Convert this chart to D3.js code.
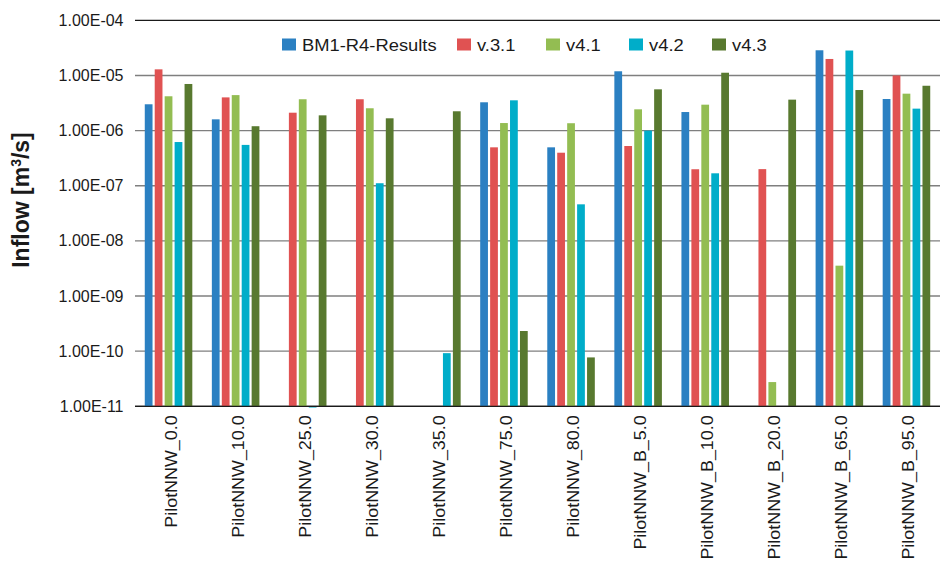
<!DOCTYPE html>
<html>
<head>
<meta charset="utf-8">
<script src="https://cdn.jsdelivr.net/npm/d3@7/dist/d3.min.js"></script>
<style>
  html, body { margin: 0; padding: 0; background: #fff; }
  svg { display: block; font-family: "Liberation Sans", Arial, sans-serif; }
</style>
</head>
<body>
<svg id="chart" width="940" height="563"></svg>
<script>
// Measurement locations along the pilot tunnel
const categories = [
  "PilotNNW_0.0", "PilotNNW_10.0", "PilotNNW_25.0", "PilotNNW_30.0",
  "PilotNNW_35.0", "PilotNNW_75.0", "PilotNNW_80.0", "PilotNNW_B_5.0",
  "PilotNNW_B_10.0", "PilotNNW_B_20.0", "PilotNNW_B_65.0", "PilotNNW_B_95.0"
];

const seriesNames = ["BM1-R4-Results", "v.3.1", "v4.1", "v4.2", "v4.3"];

// Inflow per location [m³/s]; null = no value
const bm1R4Results = [3.0e-6, 1.6e-6, null, null, null, 3.26e-6, 4.97e-7, 1.19e-5, 2.17e-6, null, 2.86e-5, 3.74e-6];
const v31          = [1.29e-5, 4.0e-6, 2.11e-6, 3.7e-6, null, 4.97e-7, 3.97e-7, 5.25e-7, 1.99e-7, 2.0e-7, 1.99e-5, 1.0e-5];
const v41          = [4.19e-6, 4.4e-6, 3.7e-6, 2.54e-6, null, 1.37e-6, 1.36e-6, 2.43e-6, 2.95e-6, 2.75e-11, 3.55e-9, 4.67e-6];
const v42          = [6.2e-7, 5.5e-7, 9.5e-12, 1.11e-7, 9.2e-11, 3.54e-6, 4.6e-8, 1.0e-6, 1.68e-7, null, 2.83e-5, 2.5e-6];
const v43          = [7.0e-6, 1.2e-6, 1.89e-6, 1.67e-6, 2.24e-6, 2.32e-10, 7.7e-11, 5.6e-6, 1.12e-5, 3.64e-6, 5.44e-6, 6.5e-6];

const yTicks = [1e-4, 1e-5, 1e-6, 1e-7, 1e-8, 1e-9, 1e-10, 1e-11];
const yTickLabels = ["1.00E-04", "1.00E-05", "1.00E-06", "1.00E-07", "1.00E-08", "1.00E-09", "1.00E-10", "1.00E-11"];

const colors = ["#2b80c2", "#e05252", "#93bd52", "#00adc9", "#58792f"];

const allSeries = [bm1R4Results, v31, v41, v42, v43];

const svg = d3.select("#chart");
const margin = { left: 135, right: 0, top: 20.3, bottom: 563 - 406.3 };
const width = 940 - margin.left - margin.right;
const height = 563 - margin.top - margin.bottom;

const g = svg.append("g").attr("transform", `translate(${margin.left},${margin.top})`);

const x0 = d3.scaleBand().domain(categories).range([0, width]).paddingInner(0).paddingOuter(0);
const x1 = d3.scaleBand().domain(seriesNames).range([x0.bandwidth() * 0.113, x0.bandwidth() * 0.887]).padding(0.22);
const y = d3.scaleLog().domain([1e-11, 1e-4]).range([height, 0]);

// Horizontal gridlines
g.append("g")
  .selectAll("line")
  .data(yTicks)
  .join("line")
  .attr("x1", 0)
  .attr("x2", width)
  .attr("y1", d => y(d))
  .attr("y2", d => y(d))
  .attr("stroke", (d, i) => i === 0 ? "#1a1a1a" : "#7f7f7f")
  .attr("stroke-width", (d, i) => i === 0 ? 1.2 : 1.4);

// Y axis tick labels
const yAxis = d3.axisLeft(y)
  .tickValues(yTicks)
  .tickFormat((d, i) => yTickLabels[i])
  .tickSize(0)
  .tickPadding(11.5);

const yG = g.append("g").call(yAxis);
yG.select(".domain").remove();
yG.selectAll("text")
  .attr("font-size", "16px")
  .attr("fill", "#1a1a1a")
  .style("font-family", "'Liberation Sans', Arial, sans-serif");

// Bars
const groups = g.append("g")
  .selectAll("g")
  .data(categories)
  .join("g")
  .attr("transform", d => `translate(${x0(d)},0)`);

groups.selectAll("rect")
  .data((c, ci) => seriesNames.map((s, si) => ({ s, si, v: allSeries[si][ci] })).filter(d => d.v != null))
  .join("rect")
  .attr("x", d => x1(d.s))
  .attr("width", x1.bandwidth())
  .attr("y", d => Math.min(y(d.v), y(1e-11)))
  .attr("height", d => Math.abs(y(1e-11) - y(d.v)))
  .attr("fill", d => colors[d.si]);

// Category axis baseline
g.append("line")
  .attr("x1", 0).attr("x2", width)
  .attr("y1", height).attr("y2", height)
  .attr("stroke", "#1a1a1a")
  .attr("stroke-width", 1.3);

// Rotated category labels (slightly widened glyphs)
g.append("g")
  .selectAll("text")
  .data(categories)
  .join("text")
  .attr("transform", d => `translate(${x0(d) + x0.bandwidth() / 2 + 8},${height + 9}) rotate(-90) scale(1.12,1)`)
  .attr("text-anchor", "end")
  .attr("font-size", "16px")
  .attr("fill", "#1a1a1a")
  .text(d => d);

// Y axis title
const title = svg.append("text")
  .attr("transform", `translate(29,200) rotate(-90)`)
  .attr("text-anchor", "middle")
  .attr("font-size", "23px")
  .attr("font-weight", "bold")
  .attr("fill", "#1a1a1a");
title.append("tspan").text("Inflow [m");
title.append("tspan").attr("font-size", "14px").attr("dy", "-8").text("3");
title.append("tspan").attr("dy", "8").text("/s]");

// Legend
const legendX = [282, 457, 546, 629, 712];
const legend = svg.append("g")
  .selectAll("g")
  .data(seriesNames)
  .join("g")
  .attr("transform", (d, i) => `translate(${legendX[i]},38.5)`);
legend.append("rect")
  .attr("width", 14).attr("height", 12)
  .attr("fill", (d, i) => colors[i]);
legend.append("text")
  .attr("transform", "translate(20,12.5) scale(1.08,1)")
  .attr("font-size", "17px")
  .attr("fill", "#1a1a1a")
  .text(d => d);
</script>
</body>
</html>
